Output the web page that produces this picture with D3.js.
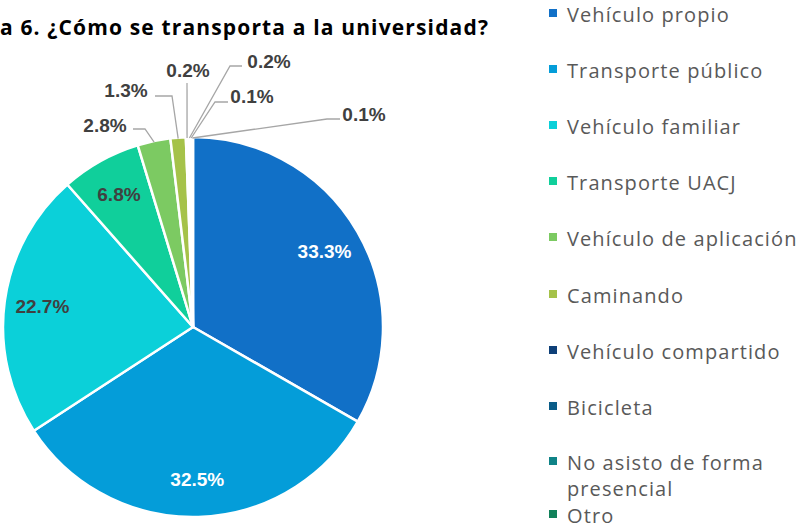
<!DOCTYPE html>
<meta charset="utf-8">
<style>
body { margin: 0; background: #fff; }
svg { display: block; font-family: "Open Sans", "Liberation Sans", sans-serif; }
.title { font-weight: bold; fill: #000; }
.legend text { fill: #595959; }
.lbl { font-family: "Liberation Sans", Arial, sans-serif; font-weight: bold; }
.leader { fill: none; stroke: #a6a6a6; stroke-width: 1.3; }
</style>
<svg width="804" height="529"></svg>
<script src="https://d3js.org/d3.v7.min.js"></script>
<script>

var categories = ["Vehículo propio", "Transporte público", "Vehículo familiar", "Transporte UACJ",
  "Vehículo de aplicación", "Caminando", "Vehículo compartido", "Bicicleta",
  "No asisto de forma presencial", "Otro"];
var values = [33.3, 32.5, 22.7, 6.8, 2.8, 1.3, 0.2, 0.2, 0.1, 0.1];
var colors = ["#1170c7", "#049dd9", "#0bd0d9", "#10cf9b", "#7cca62", "#a5c249",
  "#0e3f78", "#0a5c88", "#0f8387", "#11815a"];
var titleText = "a 6. ¿Cómo se transporta a la universidad?";

var svg = d3.select("svg"),
    cx = 193, cy = 327, radius = 190;

svg.append("text")
    .attr("class", "title")
    .attr("x", 0)
    .attr("y", 35)
    .style("font-size", "21px")
    .style("letter-spacing", "1.15px")
    .text(titleText);

var data = categories.map(function(c, i) { return {name: c, value: values[i], color: colors[i]}; });

var pie = d3.pie().sort(null).value(function(d) { return d.value; });
var arcs = pie(data);

var arc = d3.arc().innerRadius(0).outerRadius(radius);
var labelArc = d3.arc().innerRadius(radius * 0.8).outerRadius(radius * 0.8);

var g = svg.append("g").attr("transform", "translate(" + cx + "," + cy + ")");

g.selectAll("path.slice")
  .data(arcs)
  .enter().append("path")
    .attr("class", "slice")
    .attr("d", arc)
    .attr("fill", function(d) { return d.data.color; })
    .attr("stroke", "#fff")
    .attr("stroke-width", 2.5)
    .attr("stroke-linejoin", "round");

// inside labels for the big slices
var inside = arcs.filter(function(d) { return d.data.value >= 5; });
g.selectAll("text.in")
  .data(inside)
  .enter().append("text")
    .attr("class", "lbl in")
    .attr("transform", function(d) { return "translate(" + labelArc.centroid(d) + ")"; })
    .attr("text-anchor", "middle")
    .attr("dy", "0.35em")
    .style("font-size", "19px")
    .attr("fill", function(d, i) { return i < 2 ? "#fff" : "#404040"; })
    .text(function(d) { return d3.format(".1f")(d.data.value) + "%"; });

// outside labels: where the text sits and where the leader bends (offsets from pie centre)
var outsideLayout = {
  4: {tx: -88, ty: -195, bend: [[-48, -198], [-60, -198]]},
  5: {tx: -67, ty: -230, bend: [[-21, -231], [-38, -231]]},
  6: {tx: -5, ty: -250, bend: [[-6, -244]]},
  7: {tx: 76, ty: -259, bend: [[37, -261], [49, -261]]},
  8: {tx: 59, ty: -224, bend: [[22, -225], [35, -225]]},
  9: {tx: 171, ty: -206, bend: [[134, -208], [147, -208]]}
};

arcs.forEach(function(d, i) {
  var L = outsideLayout[i];
  if (!L) return;
  var mid = (d.startAngle + d.endAngle) / 2;
  var start = [Math.sin(mid) * (radius - 1), -Math.cos(mid) * (radius - 1)];
  var pts = [start].concat(L.bend);
  g.append("path")
    .attr("class", "leader")
    .attr("d", d3.line()(pts));
  g.append("text")
    .attr("class", "lbl")
    .attr("x", L.tx)
    .attr("y", L.ty)
    .attr("text-anchor", "middle")
    .style("font-size", "19px")
    .attr("fill", "#404040")
    .text(d3.format(".1f")(d.data.value) + "%");
});

// legend
var legendRows = [
  {i: 0, lines: ["Vehículo propio"], y: 22},
  {i: 1, lines: ["Transporte público"], y: 78},
  {i: 2, lines: ["Vehículo familiar"], y: 134},
  {i: 3, lines: ["Transporte UACJ"], y: 190},
  {i: 4, lines: ["Vehículo de aplicación"], y: 246},
  {i: 5, lines: ["Caminando"], y: 303},
  {i: 6, lines: ["Vehículo compartido"], y: 359},
  {i: 7, lines: ["Bicicleta"], y: 415},
  {i: 8, lines: ["No asisto de forma", "presencial"], y: 470},
  {i: 9, lines: ["Otro"], y: 523}
];

var legend = svg.append("g").attr("class", "legend");
var rows = legend.selectAll("g")
  .data(legendRows)
  .enter().append("g");

rows.append("rect")
    .attr("x", 549)
    .attr("y", function(d) { return d.y - 13; })
    .attr("width", 8)
    .attr("height", 8)
    .attr("fill", function(d) { return colors[d.i]; });

rows.append("text")
    .attr("x", 567)
    .attr("y", function(d) { return d.y; })
    .style("font-size", "20px")
    .style("letter-spacing", "1.1px")
    .each(function(d) {
      var t = d3.select(this);
      d.lines.forEach(function(line, k) {
        t.append("tspan").attr("x", 567).attr("dy", k ? 25.5 : 0).text(line);
      });
    });

</script>
